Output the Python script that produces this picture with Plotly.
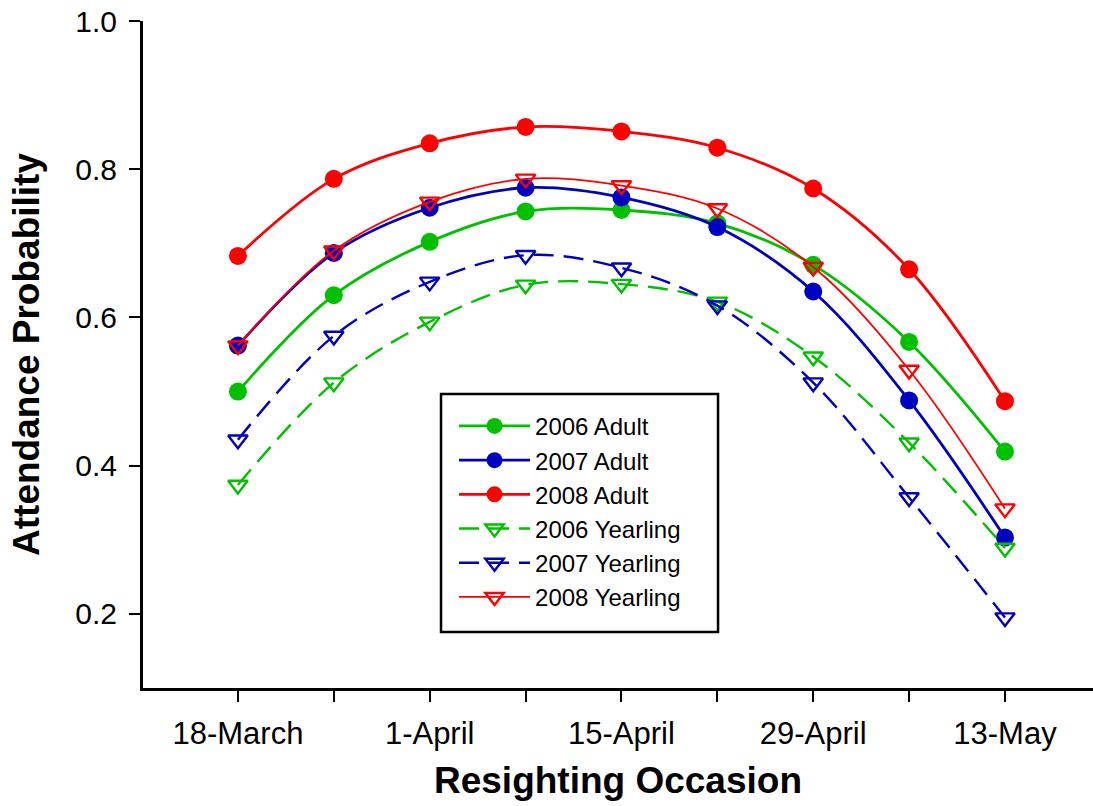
import plotly.graph_objects as go

occasions = ["18-March", "25-March", "1-April", "8-April", "15-April",
             "22-April", "29-April", "6-May", "13-May"]
tick_labels = ["18-March", "", "1-April", "", "15-April", "", "29-April", "", "13-May"]

adult_2006 = [0.500, 0.630, 0.702, 0.743, 0.745, 0.727, 0.671, 0.567, 0.419]
adult_2007 = [0.562, 0.687, 0.748, 0.775, 0.762, 0.722, 0.635, 0.488, 0.303]
adult_2008 = [0.683, 0.787, 0.835, 0.857, 0.851, 0.829, 0.774, 0.665, 0.487]
yearling_2006 = [0.374, 0.512, 0.594, 0.644, 0.645, 0.621, 0.547, 0.431, 0.289]
yearling_2007 = [0.435, 0.575, 0.648, 0.684, 0.667, 0.616, 0.512, 0.357, 0.195]
yearling_2008 = [0.562, 0.690, 0.756, 0.787, 0.778, 0.747, 0.668, 0.529, 0.342]

GREEN = "#00C000"
BLUE = "#0000C0"
RED = "#FF0000"
FONT = "Arial, Liberation Sans, sans-serif"

x = list(range(len(occasions)))

series = [
    ("2006 Adult", adult_2006, GREEN, "solid", 2.8, "circle"),
    ("2007 Adult", adult_2007, BLUE, "solid", 2.8, "circle"),
    ("2008 Adult", adult_2008, RED, "solid", 2.8, "circle"),
    ("2006 Yearling", yearling_2006, GREEN, "20px,10px", 2.4, "triangle-down-open"),
    ("2007 Yearling", yearling_2007, BLUE, "20px,10px", 2.4, "triangle-down-open"),
    ("2008 Yearling", yearling_2008, RED, "solid", 1.8, "triangle-down-open"),
]

fig = go.Figure()
for name, vals, col, dash, lw, sym in series:
    open_sym = sym.endswith("open")
    fig.add_trace(go.Scatter(
        x=x, y=vals, name=name, mode="lines+markers",
        line=dict(color=col, width=lw, dash=dash, shape="spline", smoothing=1),
        marker=dict(symbol=sym, size=17 if open_sym else 18, color=col,
                    line=dict(color=col, width=2.4 if open_sym else 0)),
    ))

# legend frame (paper coordinates of the plot area)
fig.add_shape(type="rect", xref="paper", yref="paper",
              x0=0.3137, x1=0.6053, y0=0.084, y1=0.4408,
              line=dict(color="black", width=2.5), fillcolor="white", layer="below")

fig.update_layout(
    width=1093, height=806,
    margin=dict(l=143, r=0, t=21, b=118),
    paper_bgcolor="white", plot_bgcolor="white",
    font=dict(family=FONT, color="black"),
    showlegend=True,
    legend=dict(
        x=0.3274, y=0.426, xanchor="left", yanchor="top",
        bgcolor="rgba(0,0,0,0)", borderwidth=0,
        font=dict(size=24, family=FONT, color="black"),
        itemwidth=71, tracegroupgap=0,
    ),
    xaxis=dict(
        range=[-0.99, 8.918], tickmode="array", tickvals=x, ticktext=tick_labels,
        showgrid=False, zeroline=False,
        showline=True, linecolor="black", linewidth=3,
        ticks="outside", ticklen=11, tickwidth=2, tickcolor="black",
        ticklabelstandoff=5,
        tickfont=dict(size=31, family=FONT, color="black"),
        title=dict(text="<b>Resighting Occasion</b>", standoff=17,
                   font=dict(size=37, family=FONT, color="black")),
    ),
    yaxis=dict(
        range=[0.1, 1.0], tickmode="array", tickvals=[0.2, 0.4, 0.6, 0.8, 1.0],
        ticktext=["0.2", "0.4", "0.6", "0.8", "1.0"],
        showgrid=False, zeroline=False,
        showline=True, linecolor="black", linewidth=3,
        ticks="outside", ticklen=11, tickwidth=2, tickcolor="black",
        ticklabelstandoff=6,
        tickfont=dict(size=30, family=FONT, color="black"),
        title=dict(text="<b>Attendance Probability</b>", standoff=25,
                   font=dict(size=37, family=FONT, color="black")),
    ),
)

fig.write_html("out.html")
